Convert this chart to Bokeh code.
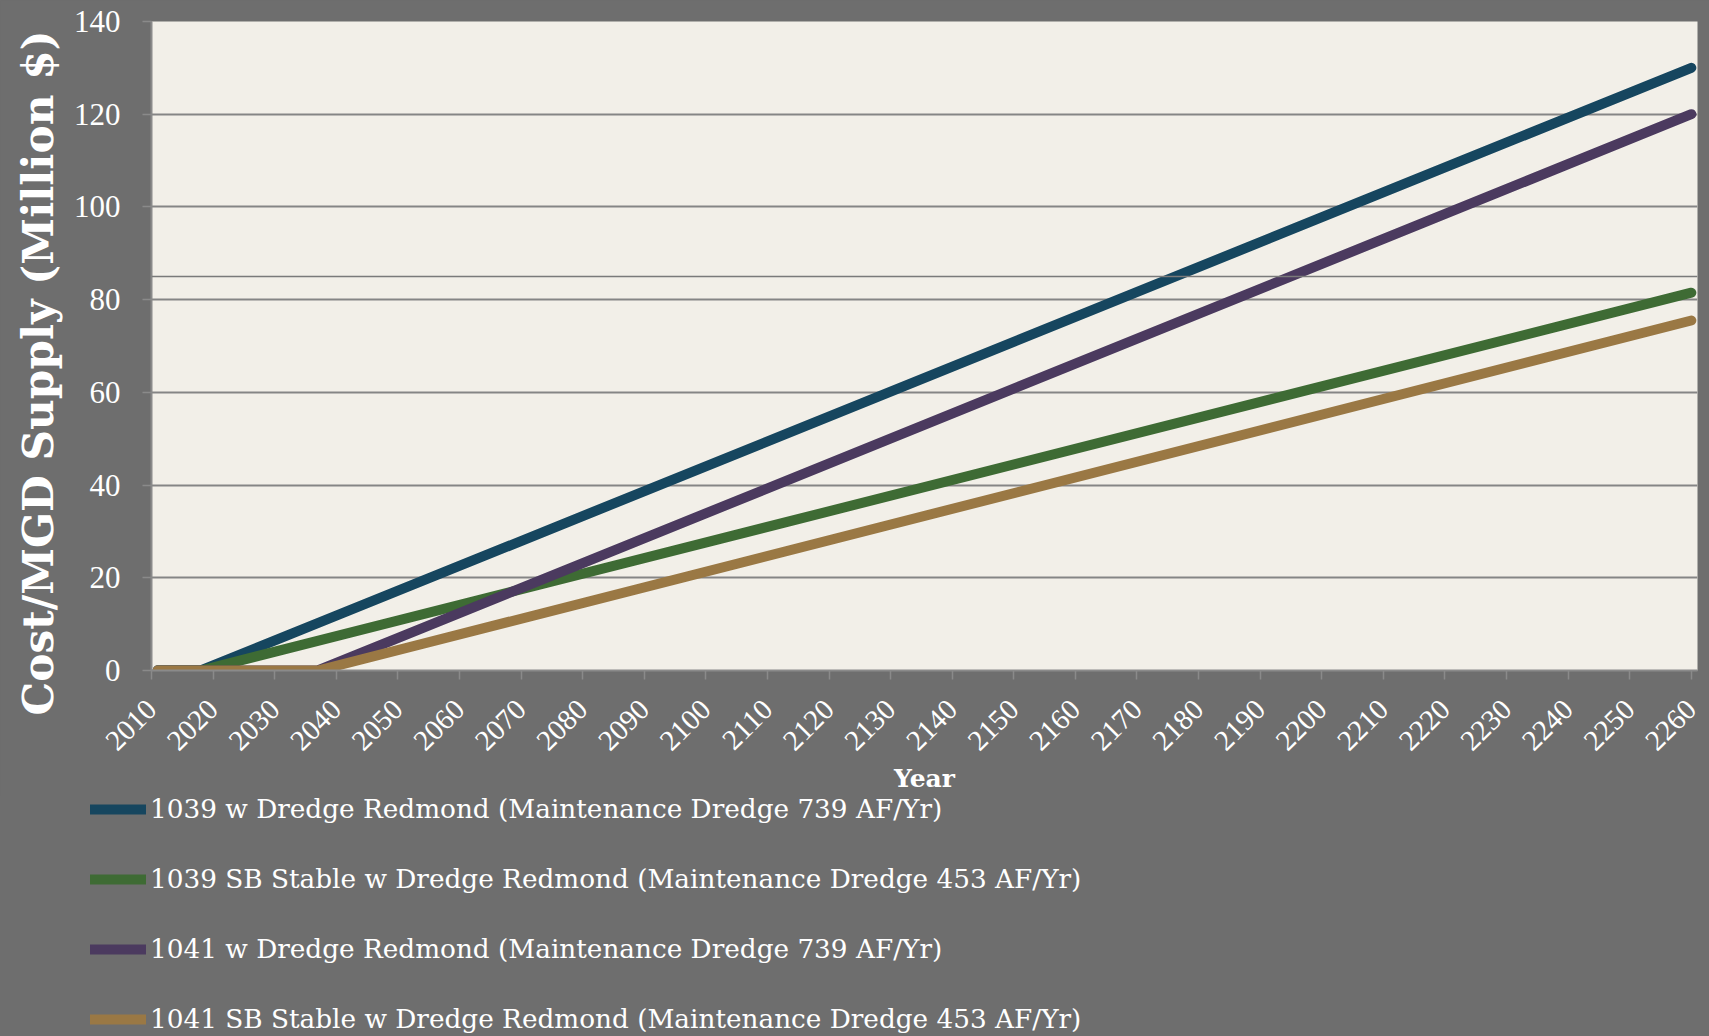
from bokeh.plotting import figure
from bokeh.layouts import column, row
from bokeh.models import Legend, LegendItem, Span, FixedTicker, Title
from bokeh.embed import file_html
from bokeh.resources import INLINE

# ---- data ----
years_1039 = [2011, 2018, 2260]
cost_1039_dredge = [0, 0, 130]
cost_1039_sb_stable = [0, 0, 81.5]
years_1041 = [2011, 2037, 2260]
cost_1041_dredge = [0, 0, 120]
cost_1041_sb_stable = [0, 0, 75.5]

series_labels = [
    "1039 w Dredge Redmond (Maintenance Dredge 739 AF/Yr)",
    "1039 SB Stable w Dredge Redmond (Maintenance Dredge 453 AF/Yr)",
    "1041 w Dredge Redmond (Maintenance Dredge 739 AF/Yr)",
    "1041 SB Stable w Dredge Redmond (Maintenance Dredge 453 AF/Yr)",
]
series_colors = ["#16465f", "#3e6b34", "#4b3a5f", "#9a7844"]
x_ticks = list(range(2010, 2261, 10))
y_ticks = list(range(0, 141, 20))

BG = "#6e6e6e"
W = 1709
H_CHART = 795
H_LEGEND = 1036 - H_CHART

p = figure(width=W, height=H_CHART, output_backend="svg", toolbar_location=None,
           x_range=(2010, 2261), y_range=(0, 140),
           min_border_left=151, min_border_top=21, min_border_right=12,
           min_border_bottom=H_CHART - 672)
p.background_fill_color = "#f2efe8"
p.border_fill_color = BG
p.outline_line_color = None

data = [(years_1039, cost_1039_dredge), (years_1039, cost_1039_sb_stable),
        (years_1041, cost_1041_dredge), (years_1041, cost_1041_sb_stable)]
for (xs, ys), c in zip(data, series_colors):
    p.line(xs, ys, line_color=c, line_width=10, line_cap="round", line_join="round")

# grid
p.xgrid.grid_line_color = None
p.ygrid.grid_line_color = "#858585"
p.ygrid.grid_line_width = 2
p.ygrid.ticker = FixedTicker(ticks=y_ticks)
p.add_layout(Span(location=85, dimension="width", line_color="#7a7a7a", line_width=1.5))

# axes
p.xaxis.ticker = FixedTicker(ticks=x_ticks)
p.yaxis.ticker = FixedTicker(ticks=y_ticks)
for ax in (p.xaxis[0], p.yaxis[0]):
    ax.axis_line_color = "#8a8a8a"
    ax.axis_line_width = 2
    ax.major_tick_line_color = "#8a8a8a"
    ax.major_tick_line_width = 1.5
    ax.major_tick_in = 0
    ax.major_tick_out = 9
    ax.minor_tick_line_color = None
    ax.major_label_text_color = "white"
    ax.major_label_text_font = "Liberation Serif"
    ax.axis_label_text_color = "white"
    ax.axis_label_text_font = "DejaVu Serif"
    ax.axis_label_text_font_style = "bold"

p.yaxis.major_label_text_font_size = "31px"
p.yaxis.major_label_standoff = 22

# y-axis title, starting a little below the plot frame as in the reference
ytitle = Title(text="Cost/MGD Supply (Million $)", align="left", offset=-45,
               text_color="white", text_font="DejaVu Serif", text_font_style="bold",
               text_font_size="42.3px", standoff=16)
p.add_layout(ytitle, "left")

p.xaxis.major_label_text_font_size = "29px"
p.xaxis.major_label_orientation = 0.785398
p.xaxis.major_label_standoff = 25
p.xaxis.axis_label = "Year"
p.xaxis.axis_label_text_font_size = "25px"
p.xaxis.axis_label_standoff = 2

# ---- legend panel below the chart ----
q = figure(width=W, height=H_LEGEND, output_backend="svg", toolbar_location=None,
           x_range=(0, 1), y_range=(0, 1), min_border=0)
q.axis.visible = False
q.grid.visible = False
q.background_fill_color = BG
q.border_fill_color = BG
q.outline_line_color = None
leg_renderers = []
for (xs, ys), c in zip(data, series_colors):
    # same series, outside this panel's range: only their legend entries show
    leg_renderers.append(q.line(xs, ys, line_color=c, line_width=10, line_cap="round"))

legend = Legend(items=[LegendItem(label=l, renderers=[r]) for l, r in zip(series_labels, leg_renderers)],
                location=(90, 2))
legend.background_fill_alpha = 0
legend.border_line_color = None
legend.padding = 0
legend.margin = 0
legend.spacing = 40
legend.glyph_width = 56
legend.glyph_height = 30
legend.label_height = 30
legend.label_standoff = 4
legend.label_text_color = "white"
legend.label_text_font = "DejaVu Serif"
legend.label_text_font_size = "26.3px"
legend.label_text_baseline = "middle"
q.add_layout(legend, "center")

layout = column(p, row(q, styles={"background-color": BG}), spacing=0,
                styles={"background-color": BG})
open("out.html", "w").write(file_html(layout, INLINE))
